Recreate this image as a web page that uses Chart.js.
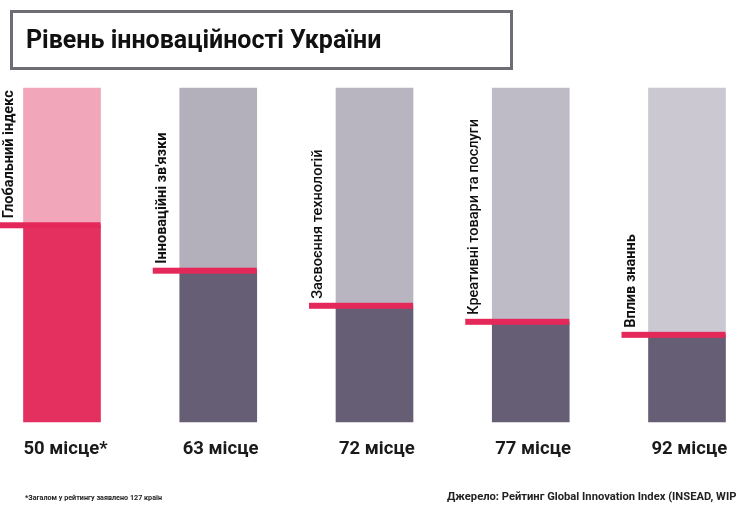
<!DOCTYPE html>
<html>
<head>
<meta charset="utf-8">
<script src="https://cdn.jsdelivr.net/npm/chart.js@4"></script>
<style>
    body { margin: 0; background: #fff; }
    #wrap { position: relative; width: 737px; height: 506px; overflow: hidden; }
    #chart { position: absolute; left: 0; top: 0; }
    #titleBox {
        position: absolute; left: 10px; top: 10px; width: 484px; height: 54px;
        border: 3px solid #6e6d75;
        font: bold 25px Roboto, sans-serif; color: #111;
        line-height: 54px; padding-left: 13px; box-sizing: content-box;
        white-space: nowrap;
    }
    .note {
        position: absolute; font: bold 7.2px Roboto, sans-serif; color: #222;
        white-space: nowrap;
    }
</style>
</head>
<body>
<div id="wrap">
    <canvas id="chart" width="737" height="506"></canvas>
    <div id="titleBox">Рівень інноваційності України</div>
    <div class="note" style="left:25px; top:493px">*Загалом у рейтингу заявлено 127 країн</div>
    <div class="note" style="left:447px; top:490px; font-size:11.2px">Джерело: Рейтинг Global Innovation Index (INSEAD, WIPO)</div>
</div>
<script>
"use strict";

// pillars of the index
const pillars = ['Глобальний індекс', 'Інноваційні зв\'язки', 'Засвоєння технологій', 'Креативні товари та послуги', 'Вплив знаннь'];
const places = ['50 місце*', '63 місце', '72 місце', '77 місце', '92 місце'];
// filled (dark) part of every bar, out of 100
const filled = [58.9, 45.3, 34.8, 30.0, 26.1];
const rest = filled.map(v => 100 - v);

const topColors = ['#f1a6ba', '#b3b0bb', '#b8b5c0', '#bebac6', '#cbc8d1'];
const lowColors = ['#e4305e', '#655e74', '#655e74', '#655e74', '#655e74'];
const markColor = '#e5285a';

// red marker + rotated names + places under bars
const markers = {
    id: 'markers',
    afterDatasetsDraw(chart) {
        const ctx = chart.ctx;
        const meta = chart.getDatasetMeta(0);
        const y = chart.scales.y;
        meta.data.forEach(function (bar, i) {
            const left = bar.x - bar.width / 2;
            const right = bar.x + bar.width / 2;
            const lineY = y.getPixelForValue(filled[i]);
            const start = Math.max(0, left - 27);

            ctx.save();
            ctx.fillStyle = markColor;
            ctx.fillRect(start, lineY - 3, right - start, 6);

            // name of the pillar, reading upwards
            ctx.translate(start + 13, lineY - 7);
            ctx.rotate(-Math.PI / 2);
            ctx.fillStyle = '#111';
            ctx.font = (i === 2 || i === 3 ? '500' : 'bold') + ' 14.5px Roboto, sans-serif';
            ctx.textAlign = 'left';
            ctx.textBaseline = 'alphabetic';
            ctx.fillText(pillars[i], 0, 0);
            ctx.restore();

            ctx.save();
            ctx.fillStyle = '#1a1a1a';
            ctx.font = 'bold 18.5px Roboto, sans-serif';
            ctx.textAlign = 'left';
            ctx.textBaseline = 'middle';
            ctx.fillText(places[i], left + (i === 0 ? 0 : 3), 449);
            ctx.restore();
        });
    }
};

new Chart(document.getElementById('chart'), {
    type: 'bar',
    data: {
        labels: pillars,
        datasets: [
            { data: filled, backgroundColor: lowColors, clip: false },
            { data: rest, backgroundColor: topColors, clip: false }
        ]
    },
    options: {
        responsive: false,
        animation: false,
        layout: { padding: { left: 62, right: 50, top: 88, bottom: 84 } },
        datasets: { bar: { barThickness: 77 } },
        plugins: { legend: { display: false }, tooltip: { enabled: false } },
        scales: {
            x: { stacked: true, display: false, offset: false },
            y: { stacked: true, display: false, min: 0, max: 100 }
        }
    },
    plugins: [markers]
});
</script>
</body>
</html>
